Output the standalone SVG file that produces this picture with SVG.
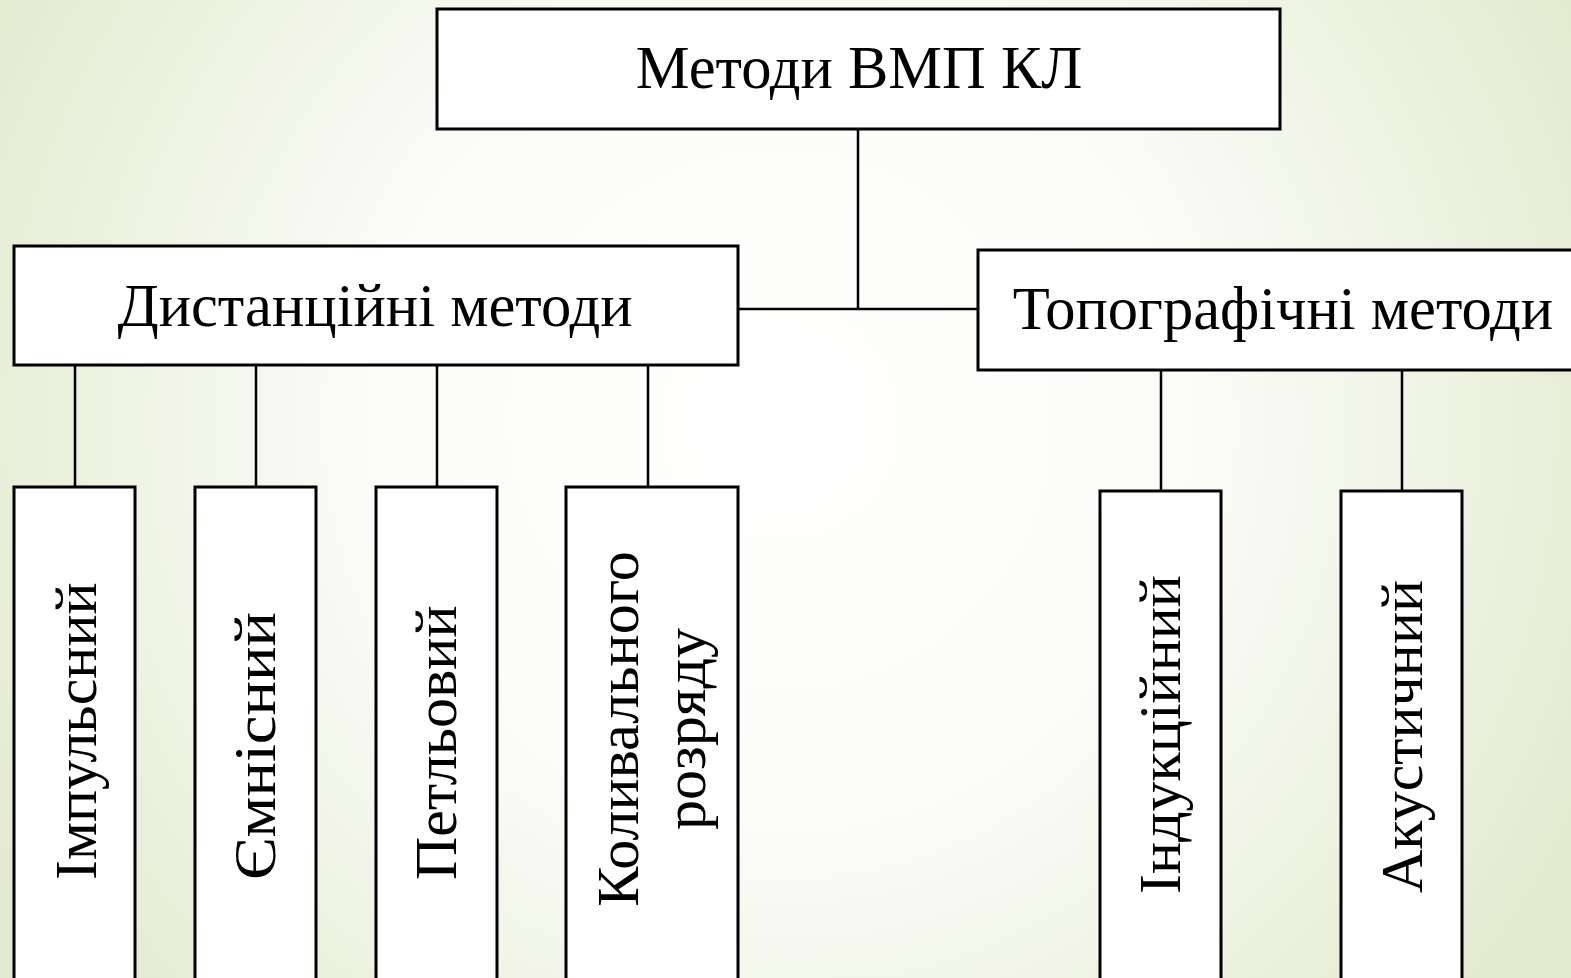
<svg xmlns="http://www.w3.org/2000/svg" width="1571" height="978" viewBox="0 0 1571 978">
<defs>
<radialGradient id="bg" cx="780" cy="420" r="900" gradientUnits="userSpaceOnUse">
<stop offset="0" stop-color="#ffffff"/>
<stop offset="0.45" stop-color="#fbfcf8"/>
<stop offset="1" stop-color="#e3eacf"/>
</radialGradient>
<style>
.box{fill:#ffffff;stroke:#000000;stroke-width:3}
.ln{stroke:#000000;stroke-width:2.5;fill:none}
.t{font-family:"Liberation Serif","Times New Roman",serif;font-size:60.5px;fill:#000000}
.v{font-family:"Liberation Serif","Times New Roman",serif;font-size:60px;fill:#000000}
</style>
</defs>
<rect width="1571" height="978" fill="url(#bg)"/>
<g id="connectors">
<path class="ln" d="M858 129 V309 M738 309 H978"/>
<path class="ln" d="M75 365 V487 M256 365 V487 M437 365 V487 M648 365 V487"/>
<path class="ln" d="M1161 370 V491 M1402 370 V491"/>
</g>
<g id="root">
<rect class="box" x="437" y="9" width="843" height="120"/>
<text class="t" x="859" y="88" text-anchor="middle">Методи ВМП КЛ</text>
</g>
<g id="distance">
<rect class="box" x="14" y="246" width="724" height="119"/>
<text class="t" x="375" y="326" text-anchor="middle">Дистанційні методи</text>
</g>
<g id="topo">
<rect class="box" x="978" y="250" width="620" height="120"/>
<text class="t" x="1283" y="329" text-anchor="middle">Топографічні методи</text>
</g>
<g id="impulse">
<rect class="box" x="14" y="487" width="121" height="520"/>
<text class="v" transform="translate(96,880) rotate(-90)">Імпульсний</text>
</g>
<g id="capacitive">
<rect class="box" x="195" y="487" width="121" height="520"/>
<text class="v" transform="translate(275,880) rotate(-90)" textLength="268" lengthAdjust="spacingAndGlyphs">Ємнісний</text>
</g>
<g id="loop">
<rect class="box" x="376" y="487" width="121" height="520"/>
<text class="v" transform="translate(456,880) rotate(-90)">Петльовий</text>
</g>
<g id="oscillating">
<rect class="box" x="566" y="487" width="172" height="520"/>
<text class="v" transform="translate(638,729) rotate(-90)" text-anchor="middle">Коливального</text>
<text class="v" transform="translate(705,729) rotate(-90)" text-anchor="middle">розряду</text>
</g>
<g id="induction">
<rect class="box" x="1100" y="491" width="121" height="520"/>
<text class="v" transform="translate(1180,894) rotate(-90)">Індукційний</text>
</g>
<g id="acoustic">
<rect class="box" x="1341" y="491" width="121" height="520"/>
<text class="v" transform="translate(1422,893) rotate(-90)">Акустичний</text>
</g>
</svg>
